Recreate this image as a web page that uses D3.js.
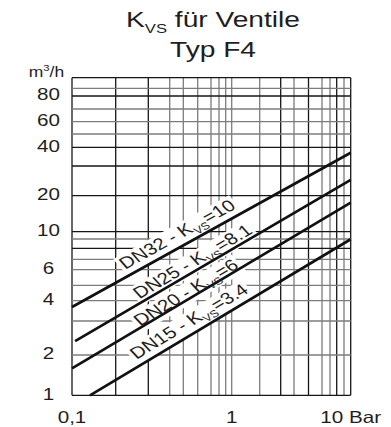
<!DOCTYPE html>
<html><head><meta charset="utf-8">
<script src="https://cdn.jsdelivr.net/npm/d3@7"></script>
<style>html,body{margin:0;padding:0;background:#fff;} svg{display:block}</style>
</head><body>
<svg id="chart" width="391" height="427"></svg>
<script>
// ---------- data ----------
const seriesNames   = ["DN32", "DN25", "DN20", "DN15"];
const kvsValues     = ["10", "8.1", "6", "3.4"];
const pressureStart = [0.1, 0.105, 0.1, 0.133];   // bar
const pressureEnd   = [10, 10, 10, 10];            // bar
const flowStart     = [3.66, 2.36, 1.59, 1.0];     // m3/h
const flowEnd       = [36.8, 24.8, 17.5, 8.97];    // m3/h
const xGridValues   = [0.1,0.2,0.3,0.4,0.5,0.6,0.7,0.8,0.9,1,2,3,4,5,6,7,8,9,10];
const yGridValues   = [1,2,3,4,5,6,7,8,9,10,20,30,40,50,60,70,80,90,100];
const xTickValues   = [0.1, 1, 10];
const xTickLabels   = ["0,1", "1", "10 Bar"];
const yTickValues   = [1, 2, 4, 6, 10, 20, 40, 60, 80];
const yTickLabels   = ["1", "2", "4", "6", "10", "20", "40", "60", "80"];

// ---------- layout (nomogram axis calibration, the printed grid is not uniform) ----------
const xAxisStops = [72,115.7,148.3,169.7,183.3,197.7,211,219,225.7,231.7,259.7,280.7,294,308.5,322,330,336.7,344,350.7];
const yAxisStops = [395.3,355,321,300.7,285.3,269.7,259.3,248.3,239,231.7,195.7,166,147.3,134,121.7,109,96,88.3,77.7];
const darkX = new Set([0.1,0.2,0.3,3,5,8,10]);
const darkY = new Set([1,8,10,20,30,40,80,100]);
const labelAt   = [0.515, 0.609, 0.55, 0.6];
const labelLift = [6.4, 3.3, 0.9, 6.3];
const S = 1.25; // horizontal text stretch of the original print
const FONT = "'Liberation Sans', Arial, Helvetica, sans-serif";
const INK = "#1e1e1e";

const x = d3.scaleLog().domain(xGridValues).range(xAxisStops);
const y = d3.scaleLog().domain(yGridValues).range(yAxisStops);

const svg = d3.select("#chart");
svg.append("rect").attr("width", 391).attr("height", 427).attr("fill", "#fff");

// grid
const grid = svg.append("g");
grid.selectAll("line.v").data(xGridValues).join("line")
  .attr("x1", d => x(d)).attr("x2", d => x(d))
  .attr("y1", y(1)).attr("y2", y(100))
  .attr("stroke", d => darkX.has(d) ? "#161616" : "#7c7c7c")
  .attr("stroke-width", 1.3);
grid.selectAll("line.h").data(yGridValues).join("line")
  .attr("y1", d => y(d)).attr("y2", d => y(d))
  .attr("x1", x(0.1)).attr("x2", x(10))
  .attr("stroke", d => darkY.has(d) ? "#161616" : "#7c7c7c")
  .attr("stroke-width", 1.3);

const haloLayer = svg.append("g");
const lineLayer = svg.append("g");
const textLayer = svg.append("g");

const series = seriesNames.map((n, i) => ({
  name: n, kvs: kvsValues[i],
  pts: [{p: pressureStart[i], q: flowStart[i]}, {p: pressureEnd[i], q: flowEnd[i]}]
}));

const line = d3.line().x(d => x(d.p)).y(d => y(d.q));
lineLayer.selectAll("path").data(series).join("path")
  .attr("d", d => line(d.pts))
  .attr("fill", "none").attr("stroke", "#111").attr("stroke-width", 2.7);

// labels along lines
series.forEach((s, i) => {
  const x0 = x(s.pts[0].p), y0 = y(s.pts[0].q), x1 = x(s.pts[1].p), y1 = y(s.pts[1].q);
  const m = (y0 - y1) / (x1 - x0);
  const ang = Math.atan(m * S) * 180 / Math.PI;
  const X = x(labelAt[i]);
  const Y = y0 - m * (X - x0);
  const tr = `translate(${X},${Y}) scale(${S},1) rotate(${-ang})`;
  const g = textLayer.append("g").attr("transform", tr);
  const t = g.append("text").attr("text-anchor", "middle").attr("y", -labelLift[i])
    .attr("font-family", FONT).attr("font-size", 16.4).attr("fill", INK);
  t.append("tspan").text(s.name + " - K");
  t.append("tspan").attr("font-size", 10).attr("dy", 4).text("VS");
  t.append("tspan").attr("dy", -4).text("=" + s.kvs);
  const bb = t.node().getBBox();
  haloLayer.append("rect").attr("transform", tr)
    .attr("x", bb.x - 2).attr("y", bb.y + 1).attr("width", bb.width + 4).attr("height", bb.height - 1)
    .attr("fill", "#fff");
});

// y tick labels
svg.append("g").selectAll("text").data(yTickValues).join("text")
  .attr("transform", d => `translate(48.5,${y(d) - 1.5}) scale(${S},1)`)
  .attr("y", 5.9).attr("text-anchor", "middle")
  .attr("font-family", FONT).attr("font-size", 16.5).attr("fill", INK)
  .text((d, i) => yTickLabels[i]);

// x tick labels
svg.append("g").selectAll("text").data(xTickValues).join("text")
  .attr("transform", d => `translate(${x(d)},422.6) scale(${S},1)`)
  .attr("text-anchor", "middle")
  .attr("font-family", FONT).attr("font-size", 16.5).attr("fill", INK)
  .text((d, i) => xTickLabels[i]);

// unit label
const u = svg.append("text").attr("transform", `translate(46.5,76.5) scale(${S},1)`)
  .attr("text-anchor", "middle").attr("font-family", FONT).attr("font-size", 14).attr("fill", INK);
u.append("tspan").text("m");
u.append("tspan").attr("font-size", 9).attr("dy", -6).text("3");
u.append("tspan").attr("dy", 6).text("/h");

// title
const T = 1.28;
const t1 = svg.append("text").attr("transform", `translate(213,26.7) scale(${T},1)`)
  .attr("text-anchor", "middle").attr("font-family", FONT).attr("font-size", 22).attr("fill", INK);
t1.append("tspan").text("K");
t1.append("tspan").attr("font-size", 13).attr("dy", 6).text("VS");
t1.append("tspan").attr("dy", -6).text(" für Ventile");
svg.append("text").attr("transform", `translate(213,56.7) scale(${T},1)`)
  .attr("text-anchor", "middle").attr("font-family", FONT).attr("font-size", 22).attr("fill", INK)
  .text("Typ F4");
</script>
</body></html>
